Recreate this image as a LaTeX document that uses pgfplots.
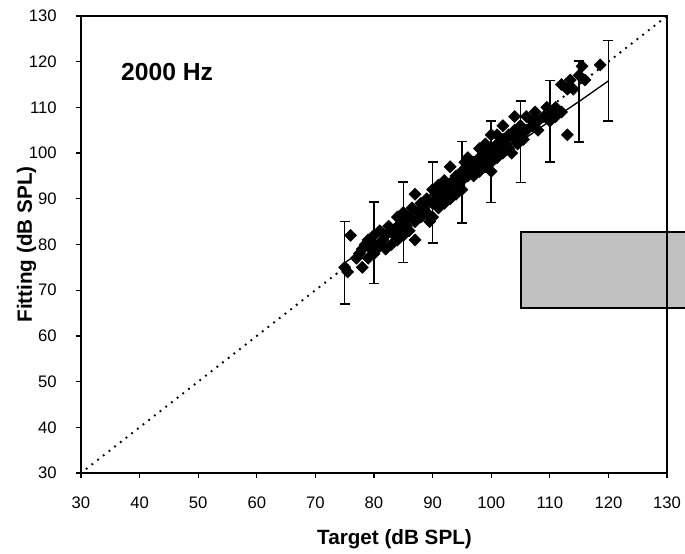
\documentclass[border=0pt]{standalone}
\usepackage{fontspec}
\setmainfont{Liberation Sans}
\usepackage{pgfplots}
\usepackage{pgfplotstable}
\pgfplotsset{compat=1.18}
\definecolor{boxgray}{RGB}{192,192,192}

\pgfplotstableread{
x y
75 75
75.5 74
76 82
77 77
77.5 78
78 75
78 79
78.5 80
79 77
79 81
79.5 79
80 78
80 80
80 82
80.5 79
81 80
81 83
81.5 81
82 79
82 82
82.5 84
83 80
83 83
83.5 82
84 81
84 84
84 86
84.5 83
85 82
85 85
85 87
85.5 84
86 83
86 86
86.5 88
87 81
87 85
87 91
87.5 87
88 86
88 89
88.5 88
89 87
89 90
89.5 85
90 89
90 92
90 86
90.5 91
91 88
91 90
91 93
91.5 92
92 89
92 91
92 94
92.5 93
93 90
93 92
93 97
93.5 94
94 91
94 95
94.5 93
95 92
95 94
95 96
95.5 98
96 95
96 97
96 99
96.5 96
97 95
97 98
97.5 97
98 96
98 99
98 101
98.5 98
99 97
99 100
99 102
99.5 99
100 96
100 98
100 101
100 104
100.5 100
101 99
101 102
101 104
101.5 101
102 100
102 103
102 106
102.5 102
103 101
103 104
103.5 100
104 103
104 105
104 108
104.5 102
105 104
105 106
105.5 103
106 105
106 108
107 106
107 107
107.5 109
108 107
108 105
109 108
109.5 110
110 109
110 107
111 108
111 110
112 109
112 115
113 104
113 114
113.5 116
114 114
115 117
115.5 119
116 116
118.6 119.3
}\scatterdata

\pgfplotstableread{
x y e
75 76.0 9.0
80 80.4 8.9
85 84.9 8.8
90 89.2 8.9
95 93.6 8.9
100 98.1 8.9
105 102.5 8.9
110 107.0 8.9
115 111.3 8.9
120 115.8 8.8
}\bardata

\begin{document}
\begin{tikzpicture}
\begin{axis}[
  scale only axis,
  width=439.5pt, height=342.75pt,
  xmin=30, xmax=130, ymin=30, ymax=130,
  xtick={30,40,...,130}, ytick={30,40,...,130},
  tick pos=left,
  tick align=outside,
  major tick length=3.75pt,
  axis line style={line width=1.1pt},
  every tick/.style={black, line width=1pt},
  axis on top,
  clip=false,
  /pgf/number format/assume math mode=true,
  tick label style={font=\fontsize{12.5}{14}\selectfont},
  xticklabel style={yshift=-10.5pt},
  yticklabel style={xshift=-11pt},
  xlabel={Target (dB SPL)},
  ylabel={Fitting (dB SPL)},
  label style={font=\bfseries\fontsize{15.5}{17}\selectfont},
  xlabel style={at={(axis description cs:0.535,-0.145)}, anchor=center},
  ylabel style={at={(axis description cs:-0.093,0.5)}, anchor=center},
]
% grey box (partly outside)
\draw[line width=1.5pt, fill=boxgray] (axis cs:105,66.1) rectangle (axis cs:134,82.7);
% identity line
\addplot[black, line width=1.9pt, line cap=round, dash pattern=on 0pt off 5.4pt] coordinates {(30,30) (130,130)};
% mean line with error bars
\addplot[black, line width=1pt, mark=none,
  error bars/.cd, y dir=both, y explicit,
  error bar style={line width=1.1pt},
  error mark options={rotate=90, mark size=3.75pt, line width=1.1pt}]
  table[x=x, y=y, y error=e] {\bardata};
% scatter
\addplot[only marks, mark=square*, mark size=3.2pt, mark options={rotate=45, fill=black, draw=black}]
  table[x=x, y=y] {\scatterdata};
\node[anchor=west, inner sep=0pt, font=\bfseries\fontsize{18.5}{20}\selectfont] at (axis cs:36.8,117.8) {2000 Hz};
\end{axis}
\pgfresetboundingbox
\path (-60.75pt,-60pt) rectangle (453pt,354.75pt);
\end{tikzpicture}
\end{document}
